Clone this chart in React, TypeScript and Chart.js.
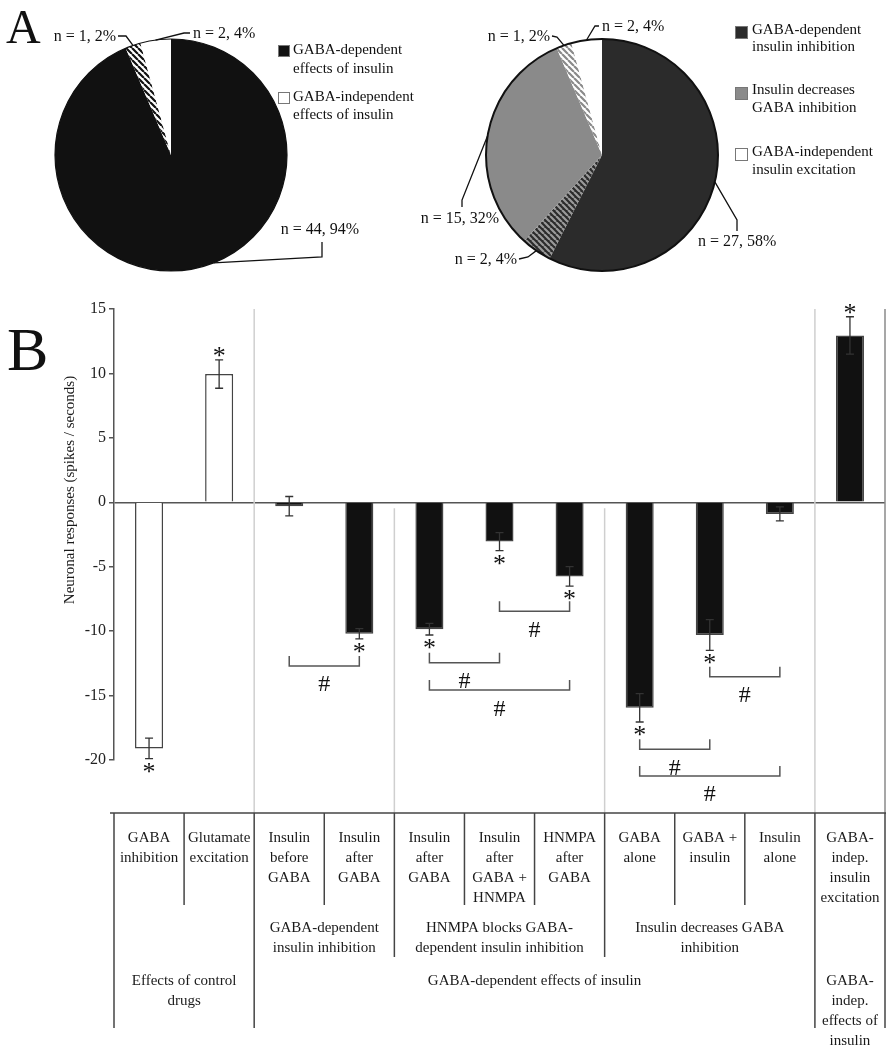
import React, { useEffect, useRef } from "react";
import { Chart, registerables } from "chart.js";

Chart.register(...registerables);

const SERIF = '"Liberation Serif", "Times New Roman", Times, serif';

// ---------------- Panel A data ----------------
const pie1Counts = [44, 1, 2];
const pie1Texts = ["n = 44, 94%", "n = 1, 2%", "n = 2, 4%"];
const pie1Legend = [
  ["GABA-dependent", "effects of insulin"],
  ["GABA-independent", "effects of insulin"],
];

const pie2Counts = [27, 2, 15, 1, 2];
const pie2Texts = ["n = 27, 58%", "n = 2, 4%", "n = 15, 32%", "n = 1, 2%", "n = 2, 4%"];
const pie2Legend = [
  ["GABA-dependent", "insulin inhibition"],
  ["Insulin decreases", "GABA inhibition"],
  ["GABA-independent", "insulin excitation"],
];

// ---------------- Panel B data ----------------
const barCategories = [
  ["GABA", "inhibition"],
  ["Glutamate", "excitation"],
  ["Insulin", "before", "GABA"],
  ["Insulin", "after", "GABA"],
  ["Insulin", "after", "GABA"],
  ["Insulin", "after", "GABA +", "HNMPA"],
  ["HNMPA", "after", "GABA"],
  ["GABA", "alone"],
  ["GABA +", "insulin"],
  ["Insulin", "alone"],
  ["GABA-", "indep.", "insulin", "excitation"],
];
const barValues = [-19.1, 9.95, -0.3, -10.2, -9.85, -3.05, -5.75, -15.95, -10.3, -0.9, 12.95];
const barErrors = [0.8, 1.1, 0.75, 0.4, 0.45, 0.7, 0.75, 1.1, 1.2, 0.55, 1.45];
const barSignificant = [true, true, false, true, true, true, true, true, true, false, true];
const yTicks = [15, 10, 5, 0, -5, -10, -15, -20];

const groupLevel2 = [
  { from: 2, to: 3, lines: ["GABA-dependent", "insulin inhibition"] },
  { from: 4, to: 6, lines: ["HNMPA blocks GABA-", "dependent insulin inhibition"] },
  { from: 7, to: 9, lines: ["Insulin decreases GABA", "inhibition"] },
];
const groupLevel3 = [
  { from: 0, to: 1, lines: ["Effects of control", "drugs"] },
  { from: 2, to: 9, lines: ["GABA-dependent effects of insulin"] },
  { from: 10, to: 10, lines: ["GABA-", "indep.", "effects of", "insulin"] },
];
const hashComparisons = [
  [2, 3],
  [4, 5],
  [4, 6],
  [5, 6],
  [7, 8],
  [7, 9],
  [8, 9],
];

// ---------------- layout / style (not data) ----------------
const hashLevels = [-12.7, -12.45, -14.57, -8.45, -19.17, -21.24, -13.53];
const barFills = ["#ffffff", "#ffffff", "#111111", "#111111", "#111111", "#111111", "#111111", "#111111", "#111111", "#111111", "#111111"];
const separators = [
  { after: 1, full: true, color: "#cfcfcf" },
  { after: 3, full: false, color: "#cfcfcf" },
  { after: 6, full: false, color: "#cfcfcf" },
  { after: 9, full: true, color: "#cfcfcf" },
  { after: 10, full: true, color: "#8a8a8a" },
];

const pie1Layout = {
  labels: [
    { x: 320, y: 230, align: "center", path: [[322, 242], [322, 257]], f: 0.47 },
    { x: 116, y: 37, align: "right", path: [[118, 36], [126, 36]], f: 0.5 },
    { x: 193, y: 34, align: "left", path: [[190, 33], [184, 33]], f: 0.5 },
  ],
  legend: {
    x: 278,
    size: 12,
    textX: 293,
    colors: ["#111111", "#ffffff"],
    entries: [
      { top: 45, lines: [50, 69] },
      { top: 92, lines: [97, 115] },
    ],
  },
  outline: 1.2,
  letter: { text: "A", x: 6, y: 43, size: 48 },
};

const pie2Layout = {
  labels: [
    { x: 298, y: 242, align: "left", path: [[337, 231], [337, 220]], f: 0.5 },
    { x: 117, y: 260, align: "right", path: [[119, 259], [128, 257]], f: 0.5 },
    { x: 60, y: 219, align: "center", path: [[62, 207], [62, 200]], f: 0.5 },
    { x: 150, y: 37, align: "right", path: [[152, 36], [157, 37]], f: 0.5 },
    { x: 202, y: 27, align: "left", path: [[199, 26], [195, 26]], f: 0.5 },
  ],
  legend: {
    x: 335,
    size: 13,
    textX: 352,
    colors: ["#2b2b2b", "#8a8a8a", "#ffffff"],
    entries: [
      { top: 26, lines: [30, 47] },
      { top: 87, lines: [90, 108] },
      { top: 148, lines: [152, 170] },
    ],
  },
  outline: 2,
  letter: null as any,
};

function stripePattern(fg: string, bg: string, size: number, width: number) {
  const c = document.createElement("canvas");
  c.width = size;
  c.height = size;
  const g = c.getContext("2d")!;
  g.fillStyle = bg;
  g.fillRect(0, 0, size, size);
  g.strokeStyle = fg;
  g.lineWidth = width;
  g.beginPath();
  for (let k = -1; k <= 1; k++) {
    g.moveTo(k * size, 0);
    g.lineTo(k * size + size, size);
  }
  g.stroke();
  return g.createPattern(c, "repeat");
}

function piePlugin(key: string, texts: string[], legendTexts: string[][], layout: any) {
  return {
    id: "pieDecor" + key,
    afterDatasetsDraw(chart: any) {
      const ctx = chart.ctx as CanvasRenderingContext2D;
      const arcs = chart.getDatasetMeta(0).data as any[];
      const a0 = arcs[0];
      ctx.save();
      ctx.beginPath();
      ctx.arc(a0.x, a0.y, a0.outerRadius, 0, Math.PI * 2);
      ctx.lineWidth = layout.outline;
      ctx.strokeStyle = "#111";
      ctx.stroke();

      ctx.font = `16px ${SERIF}`;
      ctx.fillStyle = "#111";
      ctx.textBaseline = "middle";
      texts.forEach((t, i) => {
        const L = layout.labels[i];
        const arc = arcs[i];
        const ang = arc.startAngle + L.f * (arc.endAngle - arc.startAngle);
        const px = arc.x + arc.outerRadius * Math.cos(ang);
        const py = arc.y + arc.outerRadius * Math.sin(ang);
        ctx.beginPath();
        ctx.moveTo(L.path[0][0], L.path[0][1]);
        for (let k = 1; k < L.path.length; k++) ctx.lineTo(L.path[k][0], L.path[k][1]);
        ctx.lineTo(px, py);
        ctx.lineWidth = 1.3;
        ctx.strokeStyle = "#111";
        ctx.stroke();
        ctx.textAlign = L.align;
        ctx.fillText(t, L.x, L.y);
      });

      const lg = layout.legend;
      ctx.font = `15px ${SERIF}`;
      ctx.textAlign = "left";
      legendTexts.forEach((lines, i) => {
        const e = lg.entries[i];
        ctx.fillStyle = lg.colors[i];
        ctx.fillRect(lg.x, e.top, lg.size, lg.size);
        ctx.lineWidth = 1;
        ctx.strokeStyle = "#777";
        ctx.strokeRect(lg.x + 0.5, e.top + 0.5, lg.size - 1, lg.size - 1);
        ctx.fillStyle = "#111";
        lines.forEach((ln, k) => ctx.fillText(ln, lg.textX, e.lines[k]));
      });

      if (layout.letter) {
        const L = layout.letter;
        ctx.font = `${L.size}px ${SERIF}`;
        ctx.textBaseline = "alphabetic";
        ctx.fillText(L.text, L.x, L.y);
      }
      ctx.restore();
    },
  };
}

function glyph(ctx: CanvasRenderingContext2D, s: string, x: number, cy: number) {
  const m = ctx.measureText(s);
  ctx.textAlign = "center";
  ctx.textBaseline = "alphabetic";
  ctx.fillText(s, x, cy + (m.actualBoundingBoxAscent - m.actualBoundingBoxDescent) / 2);
}

const barDecor = {
  id: "barDecor",
  beforeDatasetsDraw(chart: any) {
    const ctx = chart.ctx as CanvasRenderingContext2D;
    const xs = chart.scales.x;
    const ys = chart.scales.y;
    const ca = chart.chartArea;
    const half = (xs.getPixelForValue(1) - xs.getPixelForValue(0)) / 2;
    const tableTop = ca.bottom + 53;
    const y0 = ys.getPixelForValue(0);
    ctx.save();
    separators.forEach((s) => {
      const x = xs.getPixelForValue(s.after) + half;
      ctx.beginPath();
      ctx.moveTo(x, s.full ? ca.top : y0 + 6);
      ctx.lineTo(x, tableTop);
      ctx.lineWidth = 1.5;
      ctx.strokeStyle = s.color;
      ctx.stroke();
    });
    ctx.restore();
  },
  afterDatasetsDraw(chart: any) {
    const ctx = chart.ctx as CanvasRenderingContext2D;
    const ys = chart.scales.y;
    const bars = chart.getDatasetMeta(0).data as any[];
    ctx.save();
    ctx.strokeStyle = "#333";
    ctx.fillStyle = "#111";
    barValues.forEach((v, i) => {
      const x = bars[i].x;
      const top = ys.getPixelForValue(v + barErrors[i]);
      const bot = ys.getPixelForValue(v - barErrors[i]);
      ctx.lineWidth = 1.3;
      ctx.strokeStyle = "#333";
      ctx.beginPath();
      ctx.moveTo(x, top);
      ctx.lineTo(x, bot);
      ctx.moveTo(x - 4, top);
      ctx.lineTo(x + 4, top);
      ctx.moveTo(x - 4, bot);
      ctx.lineTo(x + 4, bot);
      ctx.stroke();
      if (barSignificant[i]) {
        ctx.font = `26px ${SERIF}`;
        glyph(ctx, "*", x, v >= 0 ? top - 8 : bot + 9);
      }
    });
    hashComparisons.forEach(([a, b], k) => {
      const lvl = ys.getPixelForValue(hashLevels[k]);
      const x1 = bars[a].x;
      const x2 = bars[b].x;
      ctx.beginPath();
      ctx.moveTo(x1, lvl - 10);
      ctx.lineTo(x1, lvl);
      ctx.lineTo(x2, lvl);
      ctx.lineTo(x2, lvl - 10);
      ctx.lineWidth = 1.5;
      ctx.strokeStyle = "#555";
      ctx.stroke();
      ctx.font = `24px ${SERIF}`;
      glyph(ctx, "#", (x1 + x2) / 2, lvl + 18);
    });
    ctx.restore();
  },
  afterDraw(chart: any) {
    const ctx = chart.ctx as CanvasRenderingContext2D;
    const xs = chart.scales.x;
    const ca = chart.chartArea;
    const half = (xs.getPixelForValue(1) - xs.getPixelForValue(0)) / 2;
    const bnd = (j: number) => (j < barValues.length ? xs.getPixelForValue(j) - half : xs.getPixelForValue(barValues.length - 1) + half);
    const tableTop = ca.bottom + 53;
    ctx.save();
    ctx.strokeStyle = "#444";
    ctx.lineWidth = 1.5;
    ctx.beginPath();
    ctx.moveTo(ca.left - 4, tableTop);
    ctx.lineTo(ca.right + 1, tableTop);
    ctx.stroke();
    const l3 = new Set<number>();
    groupLevel3.forEach((g) => {
      l3.add(g.from);
      l3.add(g.to + 1);
    });
    const l2 = new Set<number>();
    groupLevel2.forEach((g) => {
      l2.add(g.from);
      l2.add(g.to + 1);
    });
    for (let j = 0; j <= barValues.length; j++) {
      const depth = l3.has(j) ? 215 : l2.has(j) ? 144 : 92;
      const x = bnd(j);
      ctx.beginPath();
      ctx.moveTo(x, tableTop);
      ctx.lineTo(x, tableTop + depth);
      ctx.stroke();
    }
    ctx.fillStyle = "#1a1a1a";
    ctx.font = `15px ${SERIF}`;
    ctx.textAlign = "center";
    ctx.textBaseline = "middle";
    barCategories.forEach((lines, i) => {
      const cx = xs.getPixelForValue(i);
      lines.forEach((ln, k) => ctx.fillText(ln, cx, tableTop + 25 + k * 20));
    });
    groupLevel2.forEach((g) => {
      const cx = (bnd(g.from) + bnd(g.to + 1)) / 2;
      g.lines.forEach((ln, k) => ctx.fillText(ln, cx, tableTop + 115 + k * 20));
    });
    groupLevel3.forEach((g) => {
      const cx = (bnd(g.from) + bnd(g.to + 1)) / 2;
      g.lines.forEach((ln, k) => ctx.fillText(ln, cx, tableTop + 168 + k * 20));
    });

    // y-axis title
    ctx.save();
    ctx.translate(70, 210);
    ctx.rotate(-Math.PI / 2);
    ctx.font = `15px ${SERIF}`;
    ctx.fillText("Neuronal responses (spikes / seconds)", 0, 0);
    ctx.restore();

    // panel letter
    ctx.font = `62px ${SERIF}`;
    ctx.textAlign = "left";
    ctx.textBaseline = "alphabetic";
    ctx.fillStyle = "#111";
    ctx.fillText("B", 7, 90);
    ctx.restore();
  },
};

function makePie(canvas: HTMLCanvasElement, counts: number[], colors: any[], padding: any, plugin: any) {
  return new Chart(canvas, {
    type: "pie",
    data: {
      labels: counts.map((_, i) => String(i)),
      datasets: [{ data: counts, backgroundColor: colors, borderWidth: 0 }],
    },
    options: {
      animation: false,
      responsive: false,
      devicePixelRatio: 1,
      layout: { padding },
      plugins: { legend: { display: false }, tooltip: { enabled: false } },
    } as any,
    plugins: [plugin],
  });
}

export default function App() {
  const p1 = useRef<HTMLCanvasElement>(null);
  const p2 = useRef<HTMLCanvasElement>(null);
  const b = useRef<HTMLCanvasElement>(null);

  useEffect(() => {
    const hatch1 = stripePattern("#111", "#fff", 6, 2.2);
    const hatch2a = stripePattern("#9a9a9a", "#2b2b2b", 6, 2.2);
    const hatch2b = stripePattern("#8a8a8a", "#fff", 6, 2.2);

    const c1 = makePie(
      p1.current!,
      pie1Counts,
      ["#111111", hatch1, "#ffffff"],
      { left: 55, top: 39, right: 158, bottom: 9 },
      piePlugin("1", pie1Texts, pie1Legend, pie1Layout)
    );
    const c2 = makePie(
      p2.current!,
      pie2Counts,
      ["#2b2b2b", hatch2a, "#8a8a8a", hatch2b, "#ffffff"],
      { left: 86, top: 39, right: 172, bottom: 9 },
      piePlugin("2", pie2Texts, pie2Legend, pie2Layout)
    );

    const c3 = new Chart(b.current!, {
      type: "bar",
      data: {
        labels: barCategories.map((c) => c.join(" ")),
        datasets: [
          {
            data: barValues,
            backgroundColor: barFills,
            borderColor: "#444",
            borderWidth: 1.5,
            barPercentage: 0.4,
            categoryPercentage: 1,
          },
        ],
      },
      options: {
        animation: false,
        responsive: false,
        devicePixelRatio: 1,
        layout: { padding: { left: 54, right: 5, top: 29, bottom: 290 } },
        plugins: { legend: { display: false }, tooltip: { enabled: false } },
        scales: {
          x: { display: false },
          y: {
            min: -20,
            max: 15,
            afterFit: (s: any) => {
              s.width = 60;
            },
            afterBuildTicks: (s: any) => {
              s.ticks = [...yTicks].sort((a, c) => a - c).map((v) => ({ value: v }));
            },
            ticks: { font: { family: SERIF, size: 16 }, color: "#222", padding: 3 },
            grid: {
              color: (c: any) => (c.tick && c.tick.value === 0 ? "#555" : "rgba(0,0,0,0)"),
              tickColor: "#555",
              tickLength: 5,
              lineWidth: 1.5,
            },
            border: { display: true, color: "#555", width: 1.5 },
          },
        },
      } as any,
      plugins: [barDecor],
    });

    return () => {
      c1.destroy();
      c2.destroy();
      c3.destroy();
    };
  }, []);

  return (
    <div style={{ position: "absolute", left: 0, top: 0, width: 890, height: 1050, background: "#fff" }}>
      <canvas ref={p1} width={445} height={280} style={{ position: "absolute", left: 0, top: 0, width: 445, height: 280 }} />
      <canvas ref={p2} width={490} height={280} style={{ position: "absolute", left: 400, top: 0, width: 490, height: 280 }} />
      <canvas ref={b} width={890} height={770} style={{ position: "absolute", left: 0, top: 280, width: 890, height: 770 }} />
    </div>
  );
}
